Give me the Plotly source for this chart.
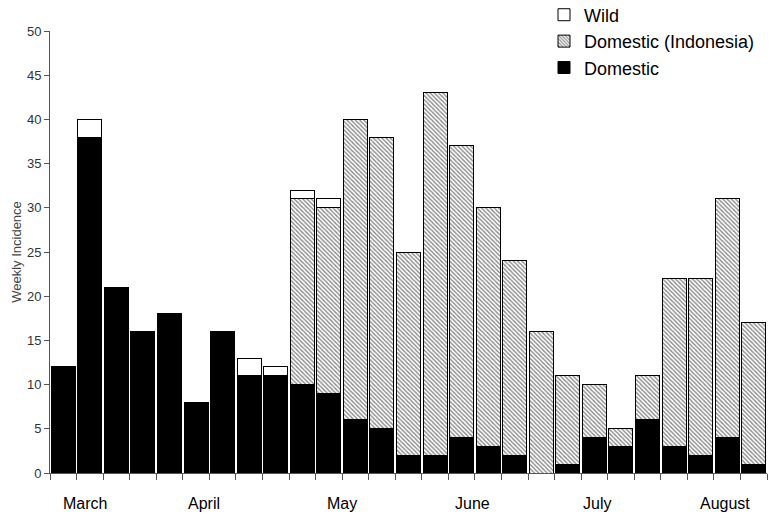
import plotly.graph_objects as go

weeks = list(range(27))
domestic = [12, 38, 21, 16, 18, 8, 16, 11, 11, 10, 9, 6, 5, 2, 2, 4, 3, 2, 0, 1, 4, 3, 6, 3, 2, 4, 1]
domestic_indonesia = [0, 0, 0, 0, 0, 0, 0, 0, 0, 21, 21, 34, 33, 23, 41, 33, 27, 22, 16, 10, 6, 2, 5, 19, 20, 27, 16]
wild = [0, 2, 0, 0, 0, 0, 0, 2, 1, 1, 1, 0, 0, 0, 0, 0, 0, 0, 0, 0, 0, 0, 0, 0, 0, 0, 0]
month_labels = ["March", "April", "May", "June", "July", "August"]
month_pos = [0.82, 5.3, 10.5, 15.4, 20.1, 24.9]

FONT = "Liberation Sans, Arial, sans-serif"

fig = go.Figure()
fig.add_trace(go.Bar(
    x=weeks, y=domestic, name="Domestic",
    marker=dict(color="black", line=dict(color="black", width=1)),
))
fig.add_trace(go.Bar(
    x=weeks, y=domestic_indonesia, name="Domestic (Indonesia)",
    marker=dict(color="white", line=dict(color="black", width=1),
                pattern=dict(shape="\\", fgcolor="#111111", bgcolor="white",
                             size=3, solidity=0.45)),
))
fig.add_trace(go.Bar(
    x=weeks, y=wild, name="Wild",
    marker=dict(color="white", line=dict(color="black", width=1)),
))

for lab, pos in zip(month_labels, month_pos):
    fig.add_annotation(x=pos, y=-0.07, xref="x", yref="paper", text=lab,
                       showarrow=False, font=dict(family=FONT, size=16, color="black"),
                       xanchor="center", yanchor="middle")

fig.update_layout(
    width=769, height=519,
    margin=dict(l=50, r=2, t=31, b=46, autoexpand=False),
    barmode="stack", bargap=0.1,
    plot_bgcolor="white", paper_bgcolor="white",
    font=dict(family=FONT, size=12, color="#333333"),
    legend=dict(x=0.689, y=1.078, xanchor="left", yanchor="top",
                traceorder="reversed", font=dict(family=FONT, size=18, color="black"),
                bgcolor="rgba(0,0,0,0)", tracegroupgap=0),
    xaxis=dict(range=[-0.5, 26.5], tickmode="array",
               tickvals=[i - 0.5 for i in range(28)], ticktext=[""] * 28,
               ticks="outside", ticklen=6, tickcolor="#555555",
               showline=True, linecolor="#555555", linewidth=1,
               showgrid=False, zeroline=False),
    yaxis=dict(range=[0, 50], dtick=5, ticks="outside", ticklen=5,
               tickcolor="#555555", showline=True, linecolor="#555555",
               linewidth=1, showgrid=False, zeroline=False,
               tickfont=dict(family=FONT, size=13, color="#333333"),
               title=dict(text="Weekly Incidence", standoff=2,
                          font=dict(family=FONT, size=13, color="#444444"))),
)

fig.write_html("out.html", config={"displayModeBar": False},
               post_script="document.body.style.margin='0';")
